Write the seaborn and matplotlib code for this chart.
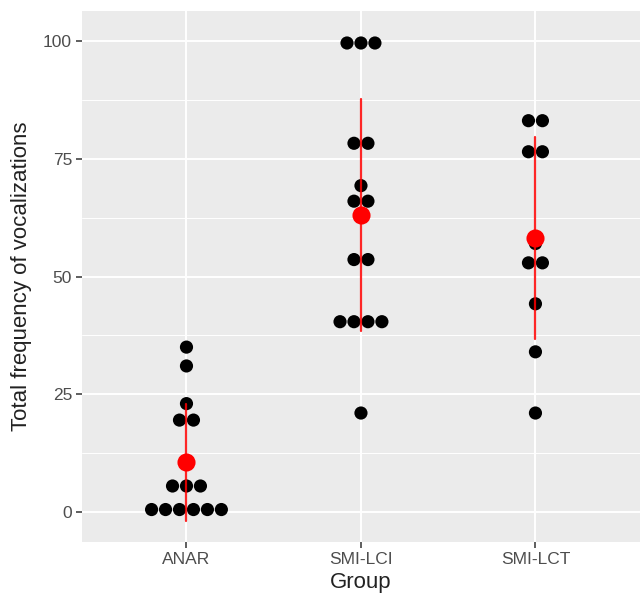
import numpy as np
import pandas as pd
import matplotlib
matplotlib.use('Agg')
import matplotlib.pyplot as plt
import seaborn as sns

# values (dotplot rows)
groups = ["ANAR", "SMI-LCI", "SMI-LCT"]
anar = [35, 31, 23, 19.5, 19.5, 5.5, 5.5, 5.5, 0.5, 0.5, 0.5, 0.5, 0.5, 0.5]
smi_lci = [99.6, 99.6, 99.6, 78.3, 78.3, 69.3, 66, 66, 53.6, 53.6,
           40.4, 40.4, 40.4, 40.4, 21]
smi_lct = [83.1, 83.1, 76.5, 76.5, 57, 52.9, 52.9, 44.2, 34, 21]

df = pd.DataFrame({
    "Group": np.repeat(groups, [len(anar), len(smi_lci), len(smi_lct)]),
    "value": anar + smi_lci + smi_lct,
})

# centred horizontal stacking like geom_dotplot(stackdir="center")
dot_w = 0.08
df["pos"] = df["Group"].map({g: i for i, g in enumerate(groups)}).astype(float)
for (g, v), idx in df.groupby(["Group", "value"]).groups.items():
    n = len(idx)
    df.loc[idx, "pos"] += (np.arange(n) - (n - 1) / 2) * dot_w

sns.set_theme(style="darkgrid")
plt.rcParams['font.family'] = ['Liberation Sans', 'DejaVu Sans']

fig = plt.figure(figsize=(6.44, 5.94), dpi=100)
ax = fig.add_axes([0.127, 0.0875, 0.867, 0.894])
ax.set_facecolor("#EBEBEB")

sns.scatterplot(data=df, x="pos", y="value", color="black", s=90,
                edgecolor="none", ax=ax, zorder=3)
sns.pointplot(data=df, x="Group", y="value", order=groups, errorbar="sd",
              color="red", linestyle="none", markersize=11,
              err_kws={"linewidth": 1.6, "alpha": 0.85}, ax=ax, zorder=4)

ax.set_xlim(-0.6, 2.6)
ax.set_ylim(-6.4, 106.4)
ax.set_xticks(range(len(groups)))
ax.set_xticklabels(groups)
ax.set_yticks([0, 25, 50, 75, 100])
ax.set_yticks([12.5, 37.5, 62.5, 87.5], minor=True)
ax.grid(which="major", color="white", linewidth=1.4)
ax.grid(which="minor", axis="y", color="white", linewidth=0.7)
ax.set_axisbelow(True)
for s in ax.spines.values():
    s.set_visible(False)

ax.tick_params(axis="both", which="major", length=4, width=1.1,
               color="#333333", labelsize=12.5, labelcolor="#4D4D4D", pad=3,
               bottom=True, left=True)
ax.tick_params(axis="both", which="minor", length=0)
ax.set_xlabel("Group", fontsize=16, color="#222222", labelpad=4)
ax.set_ylabel("Total frequency of vocalizations", fontsize=16,
              color="#222222", labelpad=8)

fig.savefig("out.png", dpi=100)
